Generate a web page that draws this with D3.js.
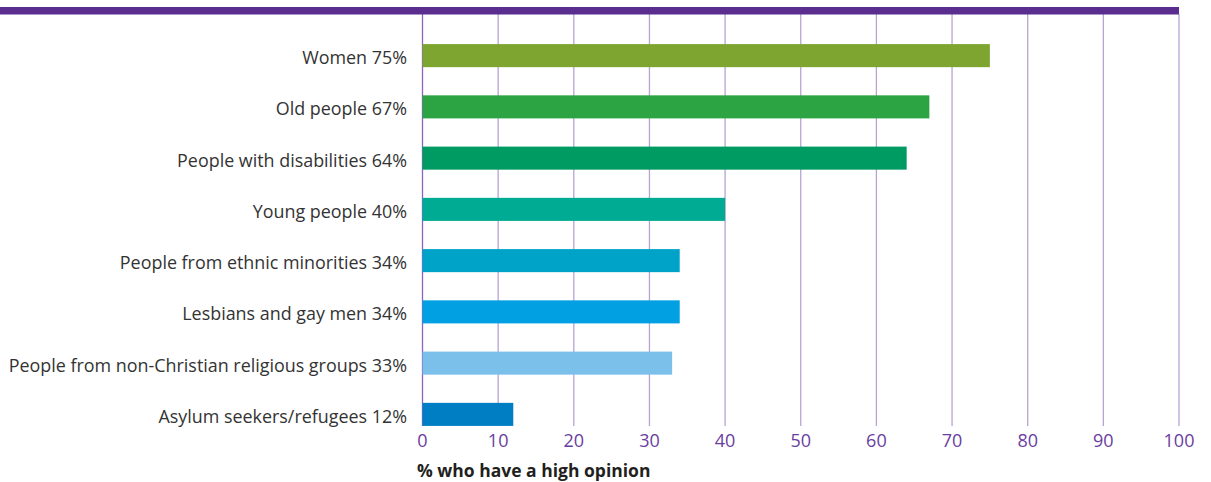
<!DOCTYPE html>
<html><head><meta charset="utf-8">
<script src="https://cdn.jsdelivr.net/npm/d3@7"></script>
<style>body{margin:0;background:#fff;}svg{display:block;font-family:"Open Sans","Noto Sans",sans-serif;}</style>
</head><body><svg id="c" width="1211" height="482"></svg>
<script>
const categories = ["Women","Old people","People with disabilities","Young people","People from ethnic minorities","Lesbians and gay men","People from non-Christian religious groups","Asylum seekers/refugees"];
const values = [75,67,64,40,34,34,33,12];
const colors = ["#7ea52f","#2ca444","#009a63","#00ab94","#00a3c8","#00a0e3","#7ac0ea","#007ec3"];
const ticks = [0,10,20,30,40,50,60,70,80,90,100];
const axisTitle = "% who have a high opinion";

const svg = d3.select("#c");
const x = d3.scaleLinear().domain([0,100]).range([422.5,1179]);
const y = d3.scaleBand().domain(categories).range([30,440]).paddingInner(0.55).paddingOuter(0.275);

svg.append("g").selectAll("line").data(ticks).join("line")
  .attr("x1",d=>x(d)).attr("x2",d=>x(d)).attr("y1",14).attr("y2",426)
  .attr("stroke",(d,i)=> i===0 ? "#8d63bf" : "#b9a2d4").attr("stroke-width",1.3);

svg.append("rect").attr("x",0).attr("y",7).attr("width",x(100)).attr("height",7.5).attr("fill","#5b2d8e");

svg.append("g").selectAll("rect").data(categories).join("rect")
  .attr("x",x(0)).attr("y",d=>y(d)).attr("height",y.bandwidth())
  .attr("width",(d,i)=>x(values[i])-x(0)).attr("fill",(d,i)=>colors[i]);

svg.append("g").selectAll("text").data(categories).join("text")
  .attr("x",407).attr("y",d=>y(d)+y.bandwidth()/2+2).attr("dy","0.36em")
  .attr("text-anchor","end").attr("font-size",17.9).attr("fill","#333")
  .text((d,i)=>d+" "+values[i]+"%");

svg.append("g").selectAll("text").data(ticks).join("text")
  .attr("x",d=>x(d)).attr("y",447).attr("text-anchor","middle")
  .attr("font-size",18).attr("fill","#6a3ea1").text(d=>d);

svg.append("text").attr("x",417).attr("y",477).attr("font-size",17.5).attr("font-weight","bold")
  .attr("fill","#231f20").text(axisTitle);
</script></body></html>
